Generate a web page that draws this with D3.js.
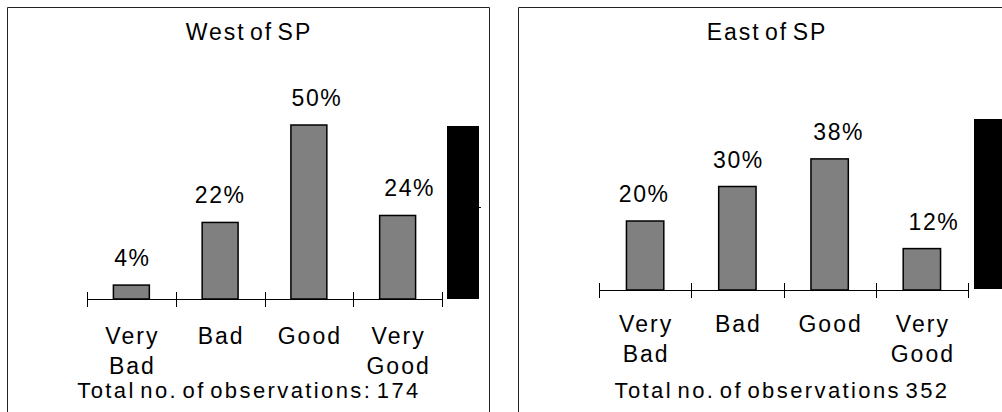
<!DOCTYPE html>
<html>
<head>
<meta charset="utf-8">
<script src="https://cdn.jsdelivr.net/npm/d3@7/dist/d3.min.js"></script>
<style>
  html, body { margin: 0; padding: 0; background: #fff; }
  svg { display: block; }
  text { font-family: "Liberation Sans", Arial, sans-serif; fill: #000; }
</style>
</head>
<body>
<svg id="chart" width="1002" height="412"></svg>
<script>
// Survey ratings, share of respondents per category
const categories = ["Very Bad", "Bad", "Good", "Very Good"];
const westValues = [0.04, 0.22, 0.50, 0.24];
const eastValues = [0.20, 0.30, 0.38, 0.12];
const westTitle = "West of SP";
const eastTitle = "East of SP";
const westNote = "Total no. of observations: 174";
const eastNote = "Total no. of observations 352";

const svg = d3.select("#chart");
const pct = d3.format(".0%");

// Layout of each panel (frame, plot area, extras)
const panels = [
  {
    title: westTitle, note: westNote, values: westValues,
    frame: { x0: 7.5, x1: 489.5, y: 7.5 },
    axis: { x0: 87, x1: 442, y: 299 }, pxPerUnit: 348, catOffset: 45,
    titleX: 249, noteX: 249, labelNudge: [0, -1, 7, 11],
    legendBox: { x: 447, y: 126, w: 32, h: 173 }, legendDash: 207
  },
  {
    title: eastTitle, note: eastNote, values: eastValues,
    frame: { x0: 518.5, x1: 1010, y: 7.5 },
    axis: { x0: 599, x1: 968, y: 290 }, pxPerUnit: 345, catOffset: 42,
    titleX: 767, noteX: 782, labelNudge: [-2, 0, 8, 11],
    legendBox: { x: 974, y: 119, w: 30, h: 170 }, legendDash: null
  }
];

panels.forEach(p => {
  const g = svg.append("g");

  // panel frame: left, top and right edges, open at the bottom
  g.append("path")
    .attr("d", `M${p.frame.x0},412 V${p.frame.y} H${p.frame.x1} V412`)
    .attr("fill", "none").attr("stroke", "#222").attr("stroke-width", 1);

  const x = d3.scaleBand()
    .domain(categories)
    .range([p.axis.x0, p.axis.x1])
    .paddingInner(0.595).paddingOuter(0.2975);

  const y = d3.scaleLinear()
    .domain([0, 0.5])
    .range([p.axis.y, p.axis.y - p.pxPerUnit * 0.5]);

  // title
  g.append("text")
    .attr("x", p.titleX).attr("y", 40)
    .attr("text-anchor", "middle")
    .style("font-size", "23px").style("letter-spacing", "2px").style("word-spacing", "-4px")
    .text(p.title);

  // bars
  g.selectAll("rect.bar").data(p.values).join("rect")
    .attr("class", "bar")
    .attr("x", (d, i) => x(categories[i]))
    .attr("width", x.bandwidth())
    .attr("y", d => y(d))
    .attr("height", d => y(0) - y(d))
    .attr("fill", "#808080").attr("stroke", "#000").attr("stroke-width", 1.5);

  // value labels
  g.selectAll("text.val").data(p.values).join("text")
    .attr("class", "val")
    .attr("x", (d, i) => x(categories[i]) + x.bandwidth() / 2 + p.labelNudge[i] + 1)
    .attr("y", d => y(d) - 19)
    .attr("text-anchor", "middle")
    .style("font-size", "23px").style("letter-spacing", "1.5px")
    .text(d => pct(d));

  // category axis: baseline with ticks between categories
  const bounds = d3.range(categories.length + 1).map(i => p.axis.x0 + i * x.step());
  g.append("line")
    .attr("x1", p.axis.x0).attr("x2", p.axis.x1)
    .attr("y1", p.axis.y + 0.5).attr("y2", p.axis.y + 0.5)
    .attr("stroke", "#000").attr("stroke-width", 1);
  g.selectAll("line.tick").data(bounds).join("line")
    .attr("class", "tick")
    .attr("x1", d => Math.round(d) + 0.5).attr("x2", d => Math.round(d) + 0.5)
    .attr("y1", p.axis.y - 7).attr("y2", p.axis.y + 8)
    .attr("stroke", "#000").attr("stroke-width", 1);

  // category labels (split onto two lines)
  const cat = g.selectAll("text.cat").data(categories).join("text")
    .attr("class", "cat")
    .attr("text-anchor", "middle")
    .style("font-size", "23px").style("letter-spacing", "2px");
  cat.each(function (c) {
    const words = c.split(" ");
    const cx = x(c) + x.bandwidth() / 2 + 1;
    words.forEach((w, k) => {
      d3.select(this).append("tspan")
        .attr("x", cx)
        .attr("y", p.axis.y + p.catOffset + k * 30)
        .text(w);
    });
  });

  // note with total observations
  g.append("text")
    .attr("x", p.noteX).attr("y", 398)
    .attr("text-anchor", "middle")
    .style("font-size", "22px").style("letter-spacing", "2.4px").style("word-spacing", "-4px")
    .text(p.note);

  // legend key block
  g.append("rect")
    .attr("x", p.legendBox.x).attr("y", p.legendBox.y)
    .attr("width", p.legendBox.w).attr("height", p.legendBox.h)
    .attr("fill", "#000");
  if (p.legendDash !== null) {
    g.append("line")
      .attr("x1", p.legendBox.x + p.legendBox.w).attr("x2", p.legendBox.x + p.legendBox.w + 2)
      .attr("y1", p.legendDash + 0.5).attr("y2", p.legendDash + 0.5)
      .attr("stroke", "#000").attr("stroke-width", 1);
  }
});
</script>
</body>
</html>
